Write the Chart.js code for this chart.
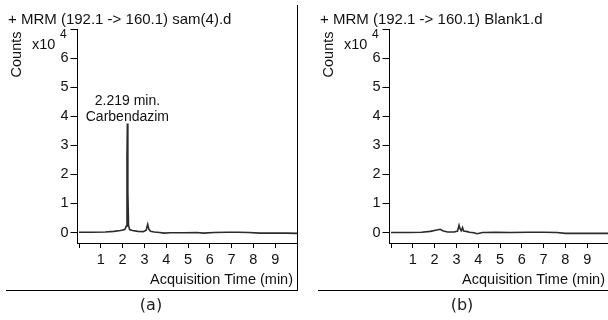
<!DOCTYPE html>
<html>
<head>
<meta charset="utf-8">
<title>MRM chromatograms</title>
<script src="https://cdn.jsdelivr.net/npm/chart.js@4"></script>
<style>
  html, body { margin: 0; padding: 0; background: #fff; }
  body { width: 608px; height: 320px; overflow: hidden; position: relative; }
  .frame { position: absolute; top: 5px; width: 292px; height: 286px; box-sizing: border-box;
           border-right: 1px solid #000; border-bottom: 1px solid #000; }
  .panel { position: absolute; top: 0; }
  .caption { position: absolute; top: 295px; width: 60px; text-align: center;
             font: 16px "DejaVu Sans", sans-serif; line-height: 20px; color: #222; }
</style>
</head>
<body>
  <div class="frame" style="left:6px;"></div>
  <div class="frame" style="left:318px;"></div>
  <canvas id="chartA" class="panel" width="300" height="320" style="left:0px;"></canvas>
  <canvas id="chartB" class="panel" width="300" height="320" style="left:312px;"></canvas>
  <div class="caption" style="left:121px;">(a)</div>
  <div class="caption" style="left:432px;">(b)</div>

<script>
// retention time (min) and counts (x10^4)
const timeA = [0, 0.6, 1.2, 1.6, 1.9, 2.1, 2.17, 2.2, 2.219, 2.24, 2.27, 2.32, 2.45, 2.7, 2.95, 3.08, 3.15, 3.2, 3.28, 3.45, 3.7, 3.9, 4.2, 4.8, 5.4, 5.7, 6.2, 6.8, 7.3, 7.8, 8.3, 8.9, 9.5, 10];
const countsA = [0.01, 0.01, 0.02, 0.04, 0.07, 0.1, 0.22, 2.6, 3.75, 1.4, 0.25, 0.1, 0.07, 0.04, 0.03, 0.08, 0.28, 0.12, 0.04, 0.02, 0.0, -0.02, -0.01, -0.01, 0.0, -0.02, 0.0, 0.01, 0.01, 0.0, -0.02, -0.02, -0.02, -0.03];

const timeB = [0, 0.8, 1.4, 1.8, 2.05, 2.25, 2.4, 2.6, 2.9, 3.05, 3.12, 3.17, 3.22, 3.28, 3.33, 3.45, 3.6, 3.8, 3.95, 4.2, 4.8, 5.5, 6.3, 7.0, 7.6, 8.0, 8.5, 9.2, 10];
const countsB = [0, 0, 0.01, 0.04, 0.08, 0.11, 0.05, 0.02, 0.02, 0.05, 0.25, 0.12, 0.06, 0.17, 0.05, 0.04, 0.01, -0.01, -0.04, 0.0, 0.01, 0.0, 0.01, 0.01, 0.0, -0.03, -0.03, -0.03, -0.03];

const xTicks = [0, 1, 2, 3, 4, 5, 6, 7, 8, 9, 10];
const yTicks = [0, 1, 2, 3, 4, 5, 6, 7];

const peakTime = 2.219;
const peakCounts = 3.75;

const FONT = '"Liberation Sans", Arial, sans-serif';

const textPlugin = {
  id: 'chromaText',
  afterDraw(chart, args, opts) {
    const ctx = chart.ctx;
    const x = chart.scales.x;
    const y = chart.scales.y;
    ctx.save();
    ctx.fillStyle = '#111';
    ctx.textBaseline = 'alphabetic';

    ctx.font = '15px ' + FONT;
    ctx.textAlign = 'left';
    ctx.fillText(opts.title, 8, 23.5);

    ctx.font = '14.5px ' + FONT;
    ctx.fillText('x10', 32, 49);

    ctx.font = '12px ' + FONT;
    ctx.fillText('4', 60, 38);

    ctx.font = '14.5px ' + FONT;
    ctx.textAlign = 'right';
    ctx.fillText('Acquisition Time (min)', 293, 283.5);

    ctx.save();
    ctx.translate(21, 54.5);
    ctx.rotate(-Math.PI / 2);
    ctx.textAlign = 'center';
    ctx.fillText('Counts', 0, 0);
    ctx.restore();

    if (opts.peak) {
      const px = x.getPixelForValue(opts.peak.t);
      const py = y.getPixelForValue(opts.peak.v);
      ctx.font = '14px ' + FONT;
      ctx.textAlign = 'center';
      ctx.fillText(opts.peak.t.toFixed(3) + ' min.', px, py - 18.5);
      ctx.fillText(opts.peak.name, px, py - 2);
    }
    ctx.restore();
  }
};

function makeChart(id, times, counts, title, peak) {
  const ctx = document.getElementById(id).getContext('2d');
  return new Chart(ctx, {
    type: 'line',
    data: {
      datasets: [{
        data: times.map((t, i) => ({ x: t, y: counts[i] })),
        borderColor: '#2b2b2b',
        borderWidth: 1.6,
        pointRadius: 0,
        tension: 0,
        fill: false
      }]
    },
    options: {
      responsive: false,
      animation: false,
      events: [],
      layout: { padding: { top: 29, right: 3, left: 0, bottom: 0 } },
      plugins: {
        legend: { display: false },
        tooltip: { enabled: false },
        chromaText: { title: title, peak: peak }
      },
      scales: {
        x: {
          type: 'linear',
          min: -0.07,
          max: 10,
          afterBuildTicks: s => { s.ticks = xTicks.map(v => ({ value: v })); },
          afterFit: s => { s.height = 77; },
          grid: { drawOnChartArea: false, drawTicks: true, tickLength: 5, tickColor: '#000' },
          border: { display: true, color: '#000', width: 1 },
          ticks: {
            color: '#111',
            padding: 3,
            maxRotation: 0,
            font: { size: 14.5, family: FONT },
            callback: v => (v === 0 || v === 10) ? '' : String(v)
          }
        },
        y: {
          type: 'linear',
          min: -0.36,
          max: 7,
          afterBuildTicks: s => { s.ticks = yTicks.map(v => ({ value: v })); },
          afterFit: s => { s.width = 77.5; },
          grid: { drawOnChartArea: false, drawTicks: true, tickLength: 7, tickColor: '#000' },
          border: { display: true, color: '#000', width: 1 },
          ticks: {
            color: '#111',
            padding: 2,
            font: { size: 14.5, family: FONT },
            callback: v => v === 7 ? '' : String(v)
          }
        }
      }
    },
    plugins: [textPlugin]
  });
}

makeChart('chartA', timeA, countsA, '+ MRM (192.1 -> 160.1) sam(4).d',
  { t: peakTime, v: peakCounts, name: 'Carbendazim' });
makeChart('chartB', timeB, countsB, '+ MRM (192.1 -> 160.1) Blank1.d', null);
</script>
</body>
</html>
